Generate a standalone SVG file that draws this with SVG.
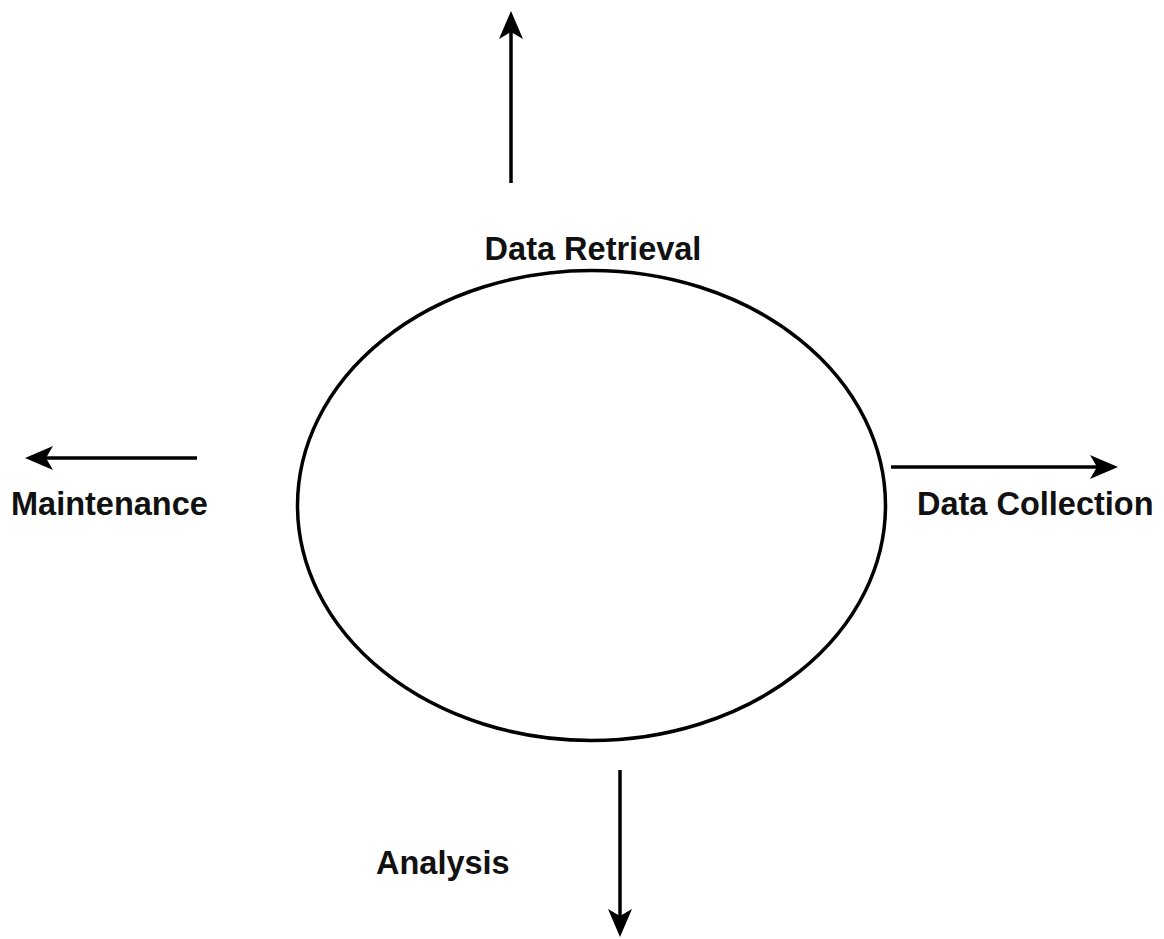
<svg xmlns="http://www.w3.org/2000/svg" width="1164" height="939" viewBox="0 0 1164 939">
<style>
.lbl{font-family:"Liberation Sans",Arial,sans-serif;font-size:32.5px;font-weight:bold;fill:#111}
.edge{stroke:#000;stroke-width:3.5;fill:none}
</style>
<defs>
<marker id="arr" markerUnits="userSpaceOnUse" viewBox="-29 -12 30 24" markerWidth="30" markerHeight="24" refX="-20" refY="0" orient="auto">
<path d="M0,0 L-28,-12 L-21,0 L-28,12 Z" fill="#000"/>
</marker>
</defs>
<rect width="1164" height="939" fill="#fff"/>
<g id="center">
<ellipse cx="591.5" cy="505.5" rx="294" ry="235" fill="#fff" stroke="#000" stroke-width="3.5"/>
</g>
<g id="connectors">
<path class="edge" d="M511,183 L511,31" marker-end="url(#arr)"/>
<path class="edge" d="M891,467 L1098,467" marker-end="url(#arr)"/>
<path class="edge" d="M197,458 L45,458" marker-end="url(#arr)"/>
<path class="edge" d="M620,770 L620,917" marker-end="url(#arr)"/>
</g>
<g id="data-retrieval"><text class="lbl" x="593" y="260" text-anchor="middle">Data Retrieval</text></g>
<g id="maintenance"><text class="lbl" x="11" y="515">Maintenance</text></g>
<g id="data-collection"><text class="lbl" x="917" y="515">Data Collection</text></g>
<g id="analysis"><text class="lbl" x="376" y="874">Analysis</text></g>
</svg>
